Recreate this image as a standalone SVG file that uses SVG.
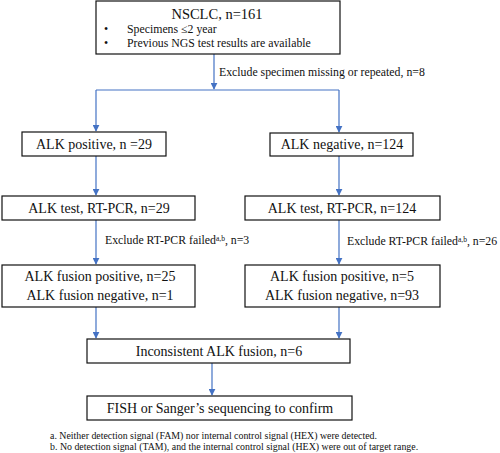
<svg xmlns="http://www.w3.org/2000/svg" width="500" height="453" viewBox="0 0 500 453">
<style>
text{font-family:"Liberation Serif","Times New Roman",serif;fill:#111}
.box{fill:#fff;stroke:#111;stroke-width:1.2}
.t{font-size:14px;text-anchor:middle}
.lbl{font-size:11.8px}
.fn{font-size:9.9px}
.c{stroke:#4472C4;stroke-width:1.2;fill:none}
.sup{font-size:7.5px}
</style>
<defs>
<marker id="ah" viewBox="0 0 10 10" refX="9" refY="5" markerWidth="7" markerHeight="7" markerUnits="userSpaceOnUse" orient="auto">
<path d="M0,0 L10,5 L0,10 z" fill="#4472C4"/>
</marker>
</defs>
<rect width="500" height="453" fill="#fff"/>
<g id="connectors">
<path class="c" d="M214,54 V89" marker-end="url(#ah)"/>
<path class="c" d="M96,90 H339"/>
<path class="c" d="M96,90 V131" marker-end="url(#ah)"/>
<path class="c" d="M339,90 V132" marker-end="url(#ah)"/>
<path class="c" d="M96,156 V195" marker-end="url(#ah)"/>
<path class="c" d="M339,156 V195" marker-end="url(#ah)"/>
<path class="c" d="M96,220 V264" marker-end="url(#ah)"/>
<path class="c" d="M339,220 V264" marker-end="url(#ah)"/>
<path class="c" d="M96,307 V338" marker-end="url(#ah)"/>
<path class="c" d="M339,307 V338" marker-end="url(#ah)"/>
<path class="c" d="M212,363 V395" marker-end="url(#ah)"/>
<text class="lbl" x="219" y="76">Exclude specimen missing or repeated, n=8</text>
<text class="lbl" x="105" y="244">Exclude RT-PCR failed<tspan class="sup" dy="-3.5">a,b</tspan><tspan dy="3.5">, n=3</tspan></text>
<text class="lbl" x="347" y="245">Exclude RT-PCR failed<tspan class="sup" dy="-3.5">a,b</tspan><tspan dy="3.5">, n=26</tspan></text>
</g>
<g id="n-nsclc">
<rect class="box" x="96" y="1" width="244" height="53"/>
<text class="t" x="217" y="19" style="font-size:14.5px">NSCLC, n=161</text>
<text class="lbl" x="104" y="33">•</text>
<text class="lbl" x="127" y="33">Specimens ≤2 year</text>
<text class="lbl" x="104" y="47">•</text>
<text class="lbl" x="127" y="47">Previous NGS test results are available</text>
</g>
<g id="n-alkpos">
<rect class="box" x="22" y="132" width="144" height="24"/>
<text class="t" x="94" y="149">ALK positive, n =29</text>
</g>
<g id="n-alkneg">
<rect class="box" x="270" y="133" width="143" height="23"/>
<text class="t" x="342" y="149">ALK negative, n=124</text>
</g>
<g id="n-test-l">
<rect class="box" x="2" y="196" width="193" height="24"/>
<text class="t" x="99" y="213">ALK test, RT-PCR, n=29</text>
</g>
<g id="n-test-r">
<rect class="box" x="245" y="196" width="195" height="24"/>
<text class="t" x="342" y="213">ALK test, RT-PCR, n=124</text>
</g>
<g id="n-fus-l">
<rect class="box" x="2" y="265" width="193" height="42"/>
<text class="t" x="100" y="281">ALK fusion positive, n=25</text>
<text class="t" x="100" y="300">ALK fusion negative, n=1</text>
</g>
<g id="n-fus-r">
<rect class="box" x="245" y="265" width="195" height="42"/>
<text class="t" x="342" y="281">ALK fusion positive, n=5</text>
<text class="t" x="342" y="300">ALK fusion negative, n=93</text>
</g>
<g id="n-incons">
<rect class="box" x="87" y="339" width="263" height="24"/>
<text class="t" x="219" y="356">Inconsistent ALK fusion, n=6</text>
</g>
<g id="n-fish">
<rect class="box" x="87" y="396" width="265" height="24"/>
<text class="t" x="220" y="413">FISH or Sanger’s sequencing to confirm</text>
</g>
<text class="fn" x="50" y="439">a. Neither detection signal (FAM) nor internal control signal (HEX) were detected.</text>
<text class="fn" x="50" y="450">b. No detection signal (TAM),  and the internal control signal (HEX) were out of target range.</text>
</svg>
